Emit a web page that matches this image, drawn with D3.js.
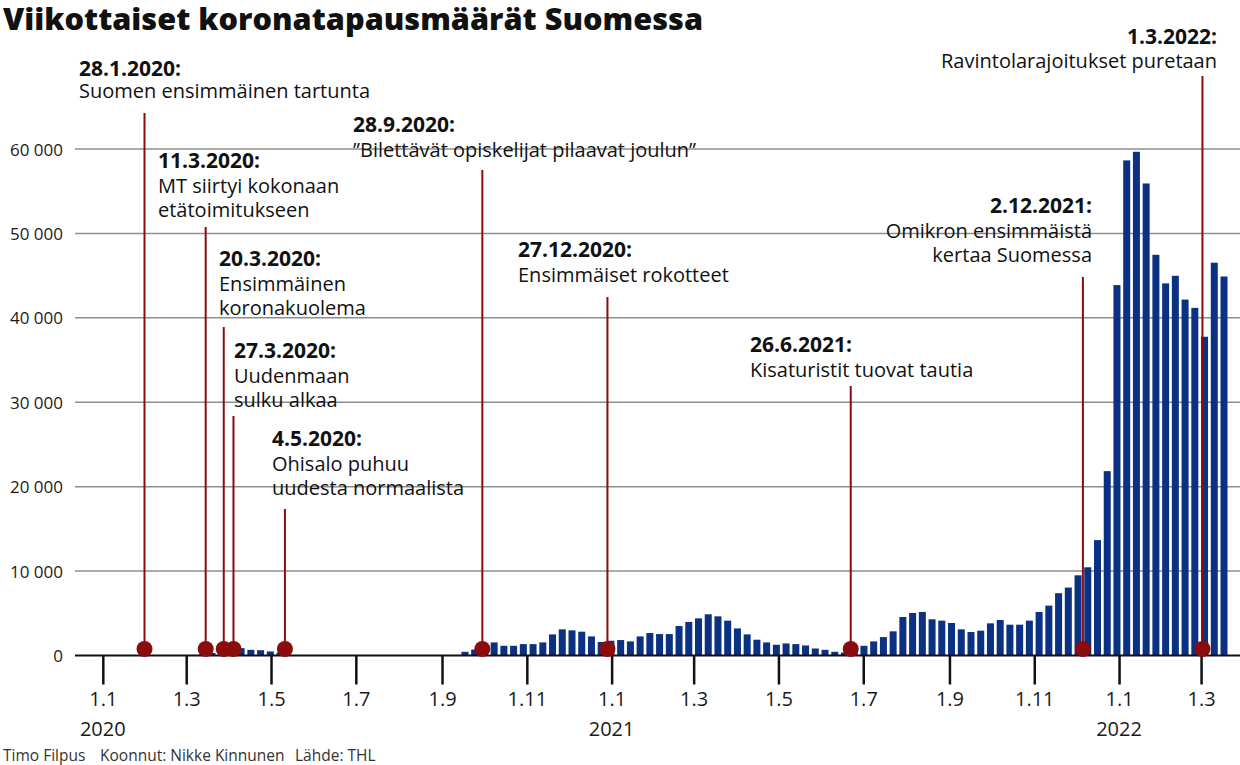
<!DOCTYPE html>
<html><head><meta charset="utf-8">
<script src="https://cdn.jsdelivr.net/npm/d3@7"></script>
<style>
html,body{margin:0;padding:0;background:#fff;}
svg{display:block;}
text{font-family:"Open Sans","Noto Sans",sans-serif;}
</style></head><body>
<svg id="chart" width="1240" height="765"></svg>
<script>
// ---------- DATA ----------
const titleText = "Viikottaiset koronatapausmäärät Suomessa";
const footerParts = ["Timo Filpus", "Koonnut: Nikke Kinnunen", "Lähde: THL"];

const yTickValues = [0, 10000, 20000, 30000, 40000, 50000, 60000];
const xTickDates = ["2020-01-01","2020-03-01","2020-05-01","2020-07-01","2020-09-01","2020-11-01",
                    "2021-01-01","2021-03-01","2021-05-01","2021-07-01","2021-09-01","2021-11-01",
                    "2022-01-01","2022-03-01"];
const xTickLabels = ["1.1","1.3","1.5","1.7","1.9","1.11","1.1","1.3","1.5","1.7","1.9","1.11","1.1","1.3"];
const yearDates = ["2020-01-01","2021-01-01","2022-01-01"];
const yearLabels = ["2020","2021","2022"];

// weekly cases, first week starting Monday 9.3.2020 (null = no bar shown)
const firstWeekStart = "2020-03-09";
const weeklyCases = [
  150, 300, 550, 750, 870, 670, 630, 480, 350,
  null, null, null, null, null, null, null, null, null,
  null, null, null, null, null, null, null, null, null,
  440, 700, 1000, 1550, 1150, 1150, 1350, 1350, 1550, 2500,
  3100, 2980, 2820, 2260, 1600, 1750, 1830, 1670, 2260, 2660,
  2540, 2540, 3490, 3970, 4400, 4880, 4640, 4130, 3210, 2500,
  1870, 1550, 1270, 1430, 1350, 1190, 830, 670, 440, 350,
  600, 1150, 1670, 2180, 2860, 4560, 5040, 5160, 4290, 4130,
  3850, 3100, 2780, 2940, 3810, 4210, 3650, 3650, 4130, 5160,
  5910, 7380, 8050, 9500, 10450, 13670, 21840, 43880, 58650, 59670,
  55920, 47470, 44080, 44980, 42160, 41180, 37760, 46530, 44900
];

// events: marker date as placed on the chart, label title and text lines
const eventMarkerDates = ["2020-01-31","2020-03-15","2020-03-28","2020-04-04","2020-05-11",
                          "2020-09-30","2020-12-29","2021-06-22","2021-12-06","2022-03-02"];
const eventTitles = ["28.1.2020:","11.3.2020:","20.3.2020:","27.3.2020:","4.5.2020:",
                     "28.9.2020:","27.12.2020:","26.6.2021:","2.12.2021:","1.3.2022:"];
const eventLines = [
  ["Suomen ensimmäinen tartunta"],
  ["MT siirtyi kokonaan","etätoimitukseen"],
  ["Ensimmäinen","koronakuolema"],
  ["Uudenmaan","sulku alkaa"],
  ["Ohisalo puhuu","uudesta normaalista"],
  ["”Bilettävät opiskelijat pilaavat joulun”"],
  ["Ensimmäiset rokotteet"],
  ["Kisaturistit tuovat tautia"],
  ["Omikron ensimmäistä","kertaa Suomessa"],
  ["Ravintolarajoitukset puretaan"]
];

// ---------- LAYOUT (positions/styles, not data) ----------
const labelLayout = [
  {x: 79,   anchor: "start", y: 76,  gap: 22, lineTop: 113},
  {x: 158,  anchor: "start", y: 168, gap: 25, lineTop: 227},
  {x: 219,  anchor: "start", y: 266, gap: 25, lineTop: 327},
  {x: 234,  anchor: "start", y: 358, gap: 25, lineTop: 416},
  {x: 272,  anchor: "start", y: 446, gap: 25, lineTop: 509},
  {x: 353,  anchor: "start", y: 132, gap: 25, lineTop: 170},
  {x: 518,  anchor: "start", y: 257, gap: 25, lineTop: 297},
  {x: 750,  anchor: "start", y: 352, gap: 25, lineTop: 386},
  {x: 1092, anchor: "end",   y: 213, gap: 25, lineTop: 277},
  {x: 1217, anchor: "end",   y: 44,  gap: 24, lineTop: 76}
];

const W = 1240, H = 765;
const plotLeft = 75, plotRight = 1240, plotTop = 149, plotBottom = 655.5;
const barColor = "#0b3183", eventColor = "#8a0c0c", gridColor = "#8e8e8e";

const parse = d3.timeParse("%Y-%m-%d");
const svg = d3.select("#chart");

const x = d3.scaleTime()
  .domain([parse("2019-12-12"), parse("2022-03-29")])
  .range([plotLeft, plotRight]);
const y = d3.scaleLinear().domain([0, 60000]).range([plotBottom, plotTop]);

const fiLocale = d3.formatLocale({decimal: ",", thousands: "\u00a0", grouping: [3], currency: ["", "€"]});
const fmt = fiLocale.format(",");

// title
svg.append("text")
  .attr("x", 3).attr("y", 30)
  .attr("font-size", 30).attr("font-weight", 800).attr("fill", "#111")
  .attr("textLength", 700).attr("lengthAdjust", "spacingAndGlyphs")
  .text(titleText);

// gridlines
const gridG = svg.append("g");
gridG.selectAll("line").data(yTickValues.filter(v => v > 0)).join("line")
  .attr("x1", plotLeft).attr("x2", plotRight)
  .attr("y1", d => y(d)).attr("y2", d => y(d))
  .attr("stroke", gridColor).attr("stroke-width", 1.5);

// y labels
svg.append("g").selectAll("text").data(yTickValues).join("text")
  .attr("x", 63).attr("y", d => y(d))
  .attr("text-anchor", "end").attr("dominant-baseline", "central")
  .attr("font-size", 17).attr("fill", "#1a1a1a")
  .text(d => fmt(d));

// bars
const start = parse(firstWeekStart);
const barData = weeklyCases.map((v, i) => ({
  center: new Date(d3.timeDay.offset(start, i * 7).getTime() + 3.5 * 864e5),
  value: v
})).filter(d => d.value != null);
const bw = 7;
svg.append("g").selectAll("rect").data(barData).join("rect")
  .attr("x", d => x(d.center) - bw / 2)
  .attr("width", bw)
  .attr("y", d => y(d.value))
  .attr("height", d => y(0) - y(d.value))
  .attr("fill", barColor);

// x axis baseline + ticks
const xAxis = d3.axisBottom(x)
  .tickValues(xTickDates.map(parse))
  .tickSize(29)
  .tickFormat((d, i) => xTickLabels[i]);
const axG = svg.append("g").attr("transform", `translate(0,${plotBottom})`).call(xAxis);
axG.select(".domain").remove();
axG.selectAll(".tick line").attr("stroke", "#111").attr("stroke-width", 2.5);
axG.selectAll(".tick text")
  .attr("font-family", "\"Open Sans\",sans-serif")
  .attr("font-size", 20).attr("fill", "#1a1a1a")
  .attr("dy", null).attr("y", 50);
svg.append("line")
  .attr("x1", plotLeft).attr("x2", plotRight)
  .attr("y1", plotBottom).attr("y2", plotBottom)
  .attr("stroke", "#111").attr("stroke-width", 2);

// year labels
svg.append("g").selectAll("text").data(yearDates).join("text")
  .attr("x", d => x(parse(d))).attr("y", 736)
  .attr("text-anchor", "middle").attr("font-size", 20).attr("fill", "#1a1a1a")
  .text((d, i) => yearLabels[i]);

// events
const events = eventMarkerDates.map((d, i) => ({
  date: parse(d), title: eventTitles[i], lines: eventLines[i], lay: labelLayout[i]
}));
const evG = svg.append("g");
evG.selectAll("line").data(events).join("line")
  .attr("x1", d => x(d.date)).attr("x2", d => x(d.date))
  .attr("y1", d => d.lay.lineTop).attr("y2", plotBottom)
  .attr("stroke", eventColor).attr("stroke-width", 2);
evG.selectAll("circle").data(events).join("circle")
  .attr("cx", d => x(d.date)).attr("cy", plotBottom - 6.5)
  .attr("r", 8).attr("fill", eventColor);

const lab = svg.append("g").selectAll("text").data(events).join("text")
  .attr("text-anchor", d => d.lay.anchor)
  .attr("fill", "#111").attr("font-size", 20);
lab.append("tspan")
  .attr("x", d => d.lay.x).attr("y", d => d.lay.y)
  .attr("font-weight", 700).attr("font-size", 21)
  .text(d => d.title);
lab.each(function(d) {
  d3.select(this).selectAll("tspan.l").data(d.lines).join("tspan")
    .attr("class", "l")
    .attr("x", d.lay.x)
    .attr("y", (t, j) => d.lay.y + d.lay.gap + j * 24)
    .text(t => t);
});

// footer
const footerX = [3, 100, 295];
svg.append("g").selectAll("text").data(footerParts).join("text")
  .attr("x", (d, i) => footerX[i]).attr("y", 761)
  .attr("font-size", 15.5).attr("fill", "#333")
  .text(d => d);
</script>
</body></html>
